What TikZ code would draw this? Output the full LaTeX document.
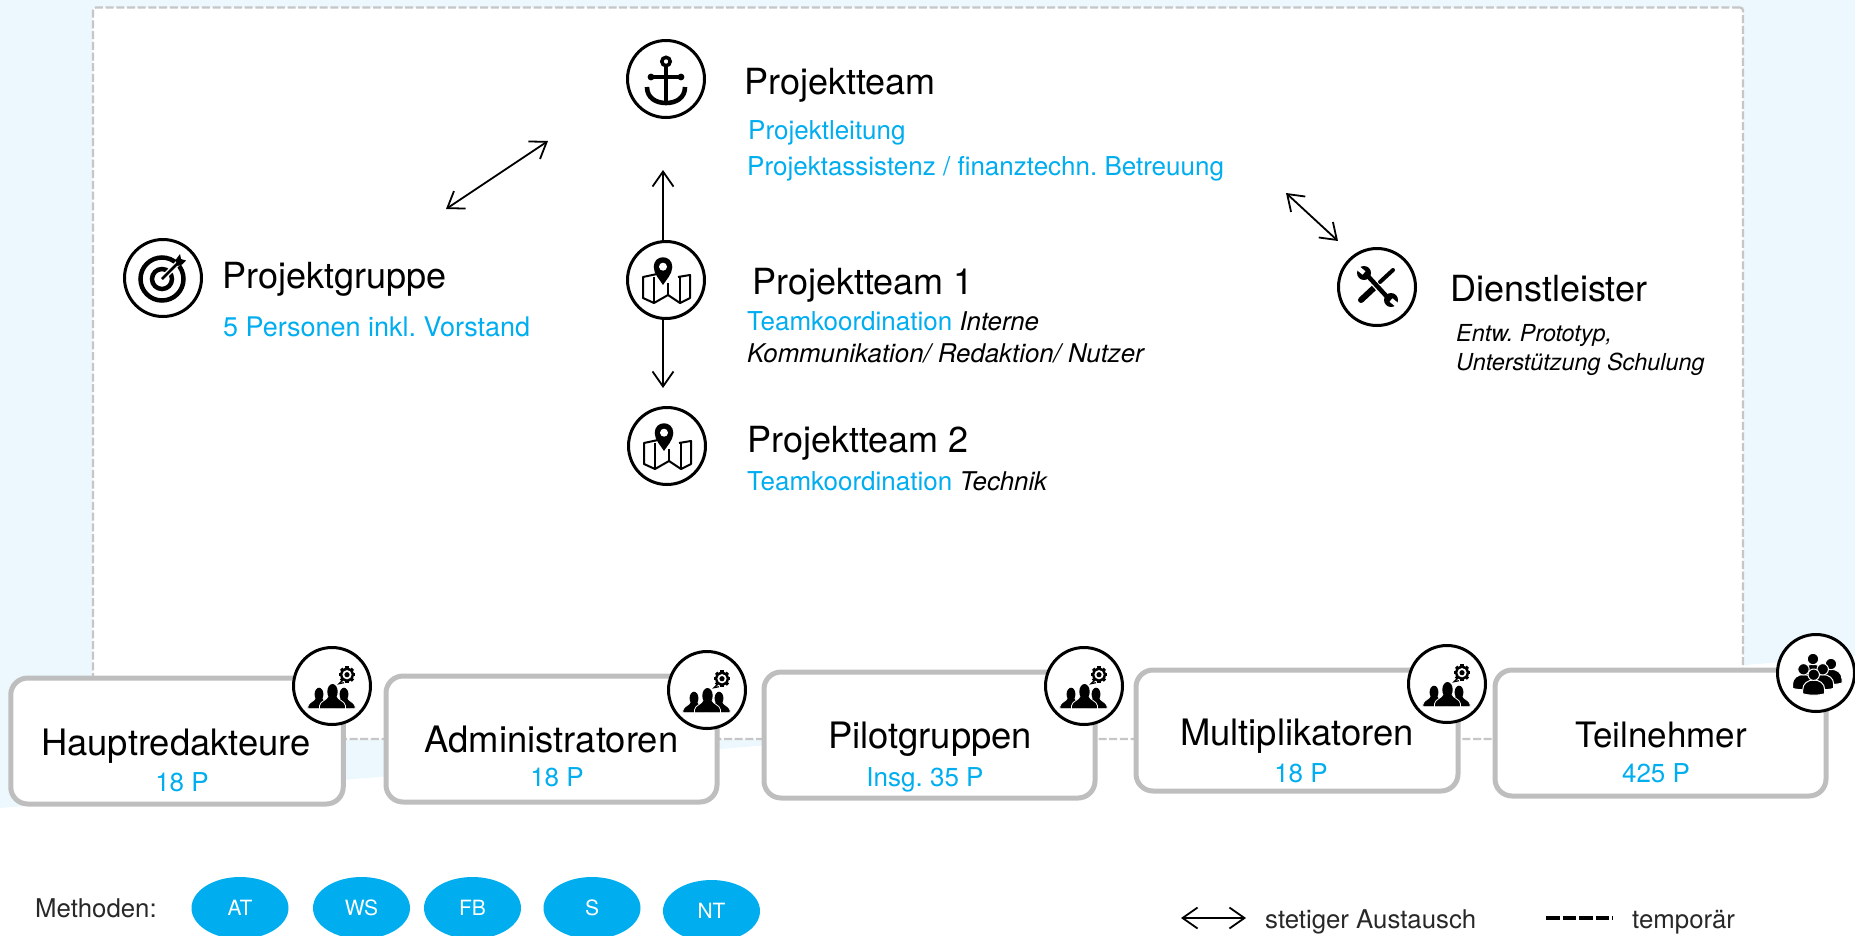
\documentclass[tikz,border=0pt]{standalone}
\usepackage{fontspec}
\setmainfont{TeX Gyre Heros}
\usetikzlibrary{arrows.meta,calc}
\usetikzlibrary{positioning,shapes}
\frenchspacing
\definecolor{hintergrund}{RGB}{236,248,254}
\definecolor{rahmen}{RGB}{198,198,198}
\definecolor{boxgrau}{RGB}{190,190,190}
\definecolor{hellblau}{RGB}{0,174,239}
\definecolor{legende}{RGB}{40,40,40}
\newcommand{\groesse}[1]{\fontsize{#1}{#1}\selectfont}
\tikzstyle{rahmenbox}=[rectangle, draw=rahmen, fill=white, line width=2.3pt, rounded corners=3pt,
		dash pattern=on 8pt off 2.7pt, outer sep=0pt, inner sep=0pt]
\tikzstyle{gruppe}=[rectangle, draw=boxgrau, fill=white, line width=5pt, rounded corners=17pt,
		outer sep=0pt, inner sep=0pt]
\tikzstyle{symbol}=[circle, draw=black, fill=white, line width=3pt, minimum size=77pt,
		outer sep=0pt, inner sep=0pt]
\tikzstyle{titel}=[anchor=base west, inner sep=0pt, text=black, font=\groesse{36}]
\tikzstyle{gruppentitel}=[anchor=base, inner sep=0pt, text=black, font=\groesse{36.4}]
\tikzstyle{unter}=[anchor=base west, inner sep=0pt, text=hellblau, font=\groesse{26}]
\tikzstyle{anzahl}=[anchor=base, inner sep=0pt, text=hellblau, font=\groesse{26}]
\tikzstyle{methode}=[ellipse, fill=hellblau, text=white, font=\groesse{21}, minimum width=97pt,
		minimum height=62pt, inner sep=0pt, outer sep=0pt]
\tikzstyle{legendentext}=[anchor=base west, inner sep=0pt, text=legende, font=\groesse{25.8}]
\tikzstyle{austausch}=[{Straight Barb[length=15pt,width=21pt]}-{Straight Barb[length=15pt,width=21pt]},
		line width=1.8pt]
\tikzstyle{pfeil}=[-{Straight Barb[length=15pt,width=21pt]}, line width=1.8pt]
\tikzset{
    pics/anker/.style={code={
        \draw[line width=3.5pt] (0,-17.5) circle (4.2);
        \draw[line width=4pt] (0,-13) -- (0,24);
        \draw[line width=3.4pt] (-15,-2) -- (15,-2);
        \fill (-15,-2) circle (3.4) (15,-2) circle (3.4);
        \draw[line width=4.6pt] (-19,8) .. controls (-19,19) and (-10,24) .. (0,24)
            .. controls (10,24) and (19,19) .. (19,8);
    }},
    pics/karte/.style={code={
        \draw[line width=2pt, line join=round] (-9,-6) -- (-23,-3) -- (-23,18) -- (-12,23)
            -- (2,15) -- (14,23) -- (24,18) -- (24,-5) -- (12,-3);
        \draw[line width=2pt] (-12,-3) -- (-12,23) (2,3) -- (2,15) (14,-3) -- (14,23);
        \fill (-3,5) .. controls (-6,0) and (-12.3,-6) .. (-12.3,-13)
            .. controls (-12.3,-26) and (6.3,-26) .. (6.3,-13)
            .. controls (6.3,-6) and (0,0) .. (-3,5) -- cycle;
        \fill[white] (-3,-13.3) circle (4);
    }},
    pics/ziel/.style={code={
        \draw[line width=4.5pt] (-1,1) circle (21.5);
        \draw[line width=4.5pt] (-1,1) circle (10);
        \draw[white, line width=5.5pt] (-1,1) -- (17,-17);
        \draw[line width=2.8pt] (-1,1) -- (17,-17);
        \fill (12.5,-18) -- (17,-24) -- (18,-19) -- (23,-17.5) -- (19,-13.5) -- (14.5,-12) -- cycle;
    }},
    pics/werkzeug/.style={code={
        \draw[line width=6pt, line cap=round] (-16,13) -- (-1,-1);
        \draw[line width=4pt, line cap=round] (3,-5) -- (16,-17);
        \draw[white, line width=6.5pt] (-4,-5) -- (6,6);
        \draw[line width=4.5pt] (-11,-13) -- (12,12);
        \fill (-13,-14) circle (7) (14,13) circle (7);
        \draw[white, line width=4.5pt] (-19,-19) -- (-13,-14);
        \draw[white, line width=4.5pt] (20,18) -- (14,13);
    }},
    pics/person/.style={code={
        \fill[draw=white, line width=.8pt] (-13,0) -- (-13,-3) .. controls (-12,-8) and (-6,-8) .. (-4,-13)
            -- (4,-13) .. controls (6,-8) and (12,-8) .. (13,-3) -- (13,0) -- cycle;
        \fill (0,-17) ellipse (5.2 and 7.7);
    }},
    pics/kopf/.style={code={
        \fill[draw=white, line width=1pt] (-11,0) -- (-11,-4) .. controls (-11,-17) and (11,-17) .. (11,-4)
            -- (11,0) .. controls (5,2) and (-5,2) .. (-11,0) -- cycle;
        \fill[draw=white, line width=1pt] (0,-19) circle (5.7);
    }},
    pics/team/.style={code={
        \pic at (-13,22.7) [scale=0.85] {person};
        \pic at (12,22.7) [scale=0.85] {person};
        \pic at (0.5,22.7) {person};
        \begin{scope}[shift={(15,-11.3)}]
            \foreach \a in {0,45,...,315}
                \draw[line width=3.2pt] (\a:6) -- (\a:8.4);
            \fill (0,0) circle (7);
            \fill[white] (0,0) circle (4.6);
            \fill (0,0) circle (2.6);
            \draw[line width=1.2pt] (-5,6) -- (-8,9) -- (-3,8);
        \end{scope}
    }},
    pics/menge/.style={code={
        \pic at (15,10) {kopf};
        \pic at (-3,5) {kopf};
        \pic at (6.7,15.3) {kopf};
        \pic at (-12.5,15.3) {kopf};
        \pic at (-2.3,20.7) {kopf};
    }}
}

\begin{document}
\begin{tikzpicture}[x=1pt,y=-1pt]

    \useasboundingbox (0,0) rectangle (1855,935);
    \fill[hintergrund] (0,0) -- (1855,0) -- (1855,656) -- (0,808) -- cycle;

    \node (Rahmen) [rahmenbox, minimum width=1650pt, minimum height=731.5pt] at (918,373.25) {};

    % Projektleitung oben
    \node (Projektteam) [symbol] at (666,79) {};
    \pic at (Projektteam) {anker};
    \node (ProjektteamTitel) [titel] at (744,94) {Projektteam};
    \node (Leitung) [unter] at (748,139) {Projektleitung};
    \node (Assistenz) [unter] at (747,175) {Projektassistenz / finanztechn. Betreuung};

    \node (TeamEins) [symbol] at (666,280) {};
    \pic at (TeamEins) {karte};
    \node (TeamEinsTitel) [titel] at (752,294) {Projektteam 1};
    \node (TeamEinsText) [unter] at (747,330) {Teamkoordination \textcolor{black}{\textit{\groesse{25.8}Interne}}};
    \node (TeamEinsZeile) [unter, text=black, font=\groesse{25.8}\itshape] at (747,362)
        {Kommunikation/ Redaktion/ Nutzer};

    \node (TeamZwei) [symbol] at (667,446) {};
    \pic at (TeamZwei) {karte};
    \node (TeamZweiTitel) [titel] at (747,452) {Projektteam 2};
    \node (TeamZweiText) [unter] at (747,490) {Teamkoordination \textcolor{black}{\textit{\groesse{25.8}Technik}}};

    \node (Projektgruppe) [symbol] at (163,278) {};
    \pic at (Projektgruppe) {ziel};
    \node (ProjektgruppeTitel) [titel] at (222,288) {Projektgruppe};
    \node (Vorstand) [unter, font=\groesse{27}] at (223,336) {5 Personen inkl. Vorstand};

    \node (Dienstleister) [symbol] at (1377,287) {};
    \pic at (Dienstleister) {werkzeug};
    \node (DienstleisterTitel) [titel] at (1450,301) {Dienstleister};
    \node (Prototyp) [unter, text=black, font=\groesse{23.4}\itshape] at (1456,341) {Entw. Prototyp,};
    \node (Schulung) [unter, text=black, font=\groesse{23.4}\itshape] at (1456,370) {Unterstützung Schulung};

    \coordinate (GruppeEnde) at (446,209);
    \coordinate (GruppeStart) at (548,141);
    \coordinate (DienstStart) at (1286,193);
    \coordinate (DienstEnde) at (1338,241);
    \coordinate (ObenEnde) at (663,170);
    \coordinate (UntenEnde) at (663,388);
    \draw [austausch] (GruppeEnde) -- (GruppeStart);
    \draw [austausch] (DienstStart) -- (DienstEnde);
    \draw [pfeil] ([xshift=-3pt]TeamEins.north) -- (ObenEnde);
    \draw [pfeil] ([xshift=-3pt]TeamEins.south) -- (UntenEnde);

    % Gruppen unten
    \node (Haupt) [gruppe, minimum width=332.5pt, minimum height=126pt] at (177,741) {};
    \node (Admin) [gruppe, minimum width=331pt, minimum height=126pt] at (551.5,739) {};
    \node (Pilot) [gruppe, minimum width=331pt, minimum height=126pt] at (929.5,735) {};
    \node (Multi) [gruppe, minimum width=322pt, minimum height=121pt] at (1297,730.5) {};
    \node (Teil) [gruppe, minimum width=331pt, minimum height=126pt] at (1660.5,733) {};

    \node (HauptTitel) [gruppentitel] at (176,755) {Hauptredakteure};
    \node (HauptZahl) [anzahl] at (182,791) {18 P};
    \node (AdminTitel) [gruppentitel] at (551.5,752) {Administratoren};
    \node (AdminZahl) [anzahl] at (557,786) {18 P};
    \node (PilotTitel) [gruppentitel] at (930,748) {Pilotgruppen};
    \node (PilotZahl) [anzahl] at (925,786) {Insg. 35 P};
    \node (MultiTitel) [gruppentitel] at (1297,745) {Multiplikatoren};
    \node (MultiZahl) [anzahl] at (1301,782) {18 P};
    \node (TeilTitel) [gruppentitel, font=\groesse{35}] at (1661,747) {Teilnehmer};
    \node (TeilZahl) [anzahl] at (1656,782) {425 P};

    \node (HauptSymbol) [symbol] at (332,686) {};
    \pic at (HauptSymbol) {team};
    \node (AdminSymbol) [symbol] at (707,690) {};
    \pic at (AdminSymbol) {team};
    \node (PilotSymbol) [symbol] at (1084,686) {};
    \pic at (PilotSymbol) {team};
    \node (MultiSymbol) [symbol] at (1447,684) {};
    \pic at (MultiSymbol) {team};
    \node (TeilSymbol) [symbol] at (1816,673) {};
    \pic at (TeilSymbol) {menge};

    % Legende
    \node (Methoden) [legendentext] at (35,917) {Methoden:};
    \node (AT) [methode] at (240,908) {AT};
    \node (WS) [methode, right=24.5pt of AT] {WS};
    \node (FB) [methode, right=14pt of WS] {FB};
    \node (S) [methode, right=22.5pt of FB] {S};
    \node (NT) [methode, right=22.5pt of S, yshift=-3pt] {NT};

    \coordinate (TauschLinks) at (1181,918);
    \coordinate (TauschRechts) at (1246,918);
    \draw [austausch] (TauschLinks) -- (TauschRechts);
    \node (Stetig) [legendentext] at (1265,928) {stetiger Austausch};
    \coordinate (TemporaerLinks) at (1546,918);
    \coordinate (TemporaerRechts) at (1613,918);
    \draw [line width=3.5pt, dash pattern=on 13.5pt off 3pt] (TemporaerLinks) -- (TemporaerRechts);
    \node (Temporaer) [legendentext] at (1632,928) {temporär};

\end{tikzpicture}
\end{document}
